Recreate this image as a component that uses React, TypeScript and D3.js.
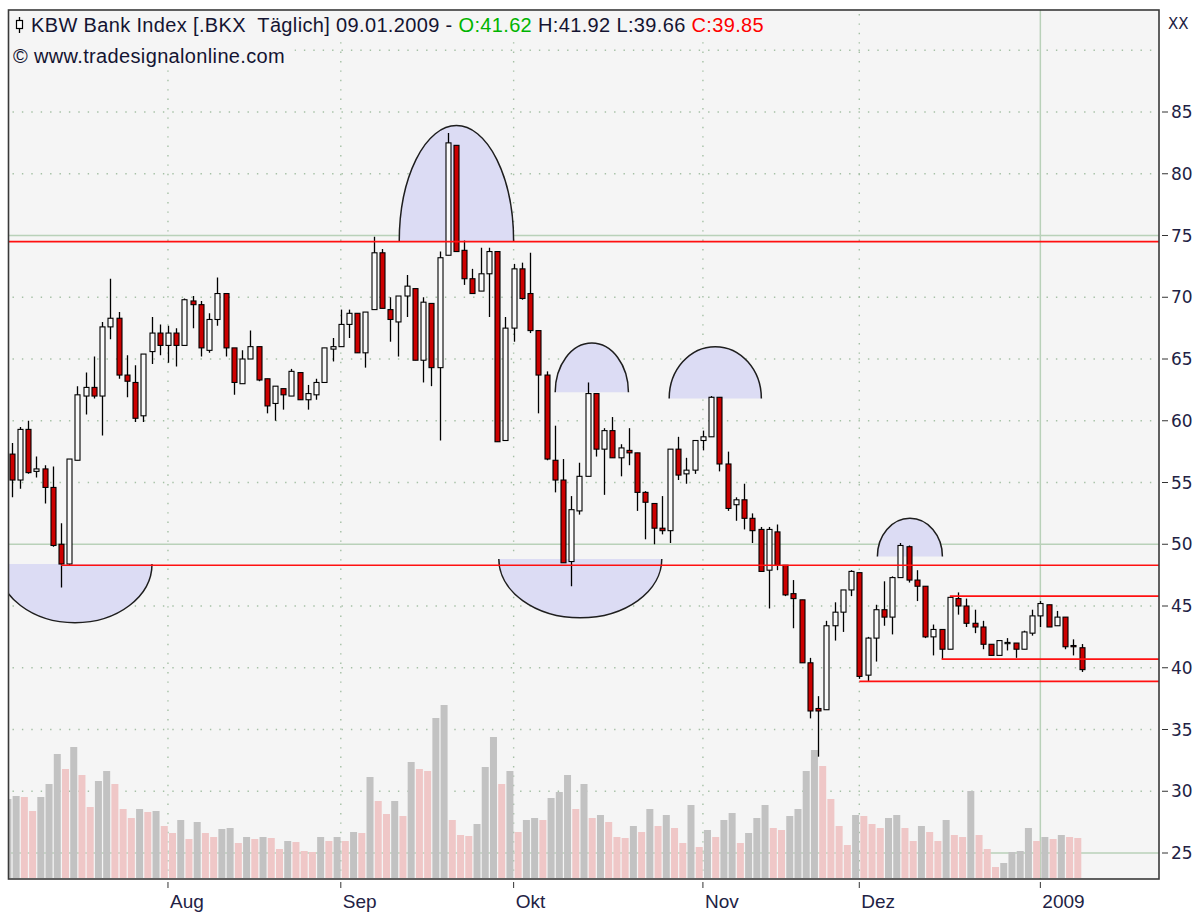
import React from "react";
import * as d3 from "d3";

// ---- Data (KBW Bank Index .BKX, daily, 07.07.2008 – 09.01.2009) ----
const opens = [
  57.3, 55.2, 59.3, 55.9, 56.1, 54.6, 50.0, 48.4, 56.8, 62.0,
  62.7, 62.0, 67.6, 68.3, 63.7, 63.1, 60.4, 65.6, 67.1, 66.1,
  67.1, 66.1, 69.7, 69.4, 65.7, 68.2, 70.3, 65.9, 63.0, 65.0,
  66.0, 63.4, 61.4, 62.6, 62.0, 63.9, 61.7, 62.1, 63.1, 65.8,
  66.0, 67.8, 68.7, 65.5, 69.0, 73.6, 69.0, 68.0, 70.1, 70.7,
  64.9, 69.5, 64.3, 73.4, 82.3, 73.8, 71.5, 70.5, 71.9, 73.7,
  58.4, 67.5, 72.3, 70.3, 67.3, 63.7, 56.8, 55.2, 48.6, 52.7,
  55.5, 62.2, 57.7, 59.2, 57.0, 57.6, 57.4, 54.2, 53.3, 51.3,
  51.1, 57.7, 55.7, 56.0, 58.4, 58.7, 61.9, 56.5, 53.2, 53.6,
  52.1, 51.2, 47.9, 51.0, 48.3, 46.0, 45.5, 40.4, 36.7, 36.6,
  43.4, 44.5, 46.3, 47.7, 39.4, 42.4, 44.7, 44.1, 47.3, 49.8,
  47.1, 46.6, 42.5, 43.1, 41.5, 45.6, 45.0, 43.6, 43.3, 41.9,
  41.0, 41.95, 42.0, 41.5, 42.8, 44.2, 45.1, 43.4, 44.1, 41.8,
  41.62,
];
const highs = [
  58.2, 59.5, 60.0, 57.1, 56.4, 56.3, 51.7, 56.9, 62.8, 63.9,
  65.2, 68.0, 71.5, 68.8, 65.3, 64.5, 65.4, 68.4, 67.8, 67.7,
  67.5, 69.9, 70.1, 69.7, 68.7, 71.6, 70.3, 65.9, 65.7, 67.3,
  66.0, 63.4, 62.8, 62.6, 64.2, 63.9, 62.9, 63.4, 65.9, 66.7,
  69.0, 69.0, 68.7, 68.8, 74.9, 73.9, 70.0, 70.1, 71.8, 70.7,
  70.0, 69.5, 73.7, 83.3, 82.3, 74.6, 72.3, 74.0, 74.0, 73.7,
  68.4, 72.7, 72.8, 73.6, 67.3, 64.0, 59.6, 56.9, 53.9, 56.6,
  63.1, 62.2, 59.4, 60.3, 58.1, 59.4, 57.4, 54.3, 53.3, 53.9,
  57.7, 58.7, 57.0, 58.4, 59.2, 62.0, 61.9, 57.5, 53.8, 54.9,
  52.5, 51.4, 51.4, 51.6, 48.3, 47.1, 45.5, 40.8, 37.7, 43.8,
  45.3, 46.3, 47.9, 47.7, 42.5, 45.1, 47.0, 47.4, 50.1, 49.9,
  47.9, 46.6, 43.5, 43.1, 45.7, 46.1, 45.6, 44.7, 43.8, 41.9,
  42.2, 42.4, 42.0, 43.0, 44.7, 45.4, 45.1, 44.6, 44.1, 42.3,
  41.92,
];
const lows = [
  53.8, 54.5, 55.7, 55.4, 53.3, 49.8, 46.5, 48.3, 56.8, 60.5,
  61.8, 58.8, 66.6, 63.4, 61.9, 59.9, 59.9, 64.6, 65.3, 64.7,
  64.4, 66.1, 67.5, 65.2, 65.5, 67.7, 65.2, 62.1, 63.0, 65.0,
  63.2, 60.6, 60.0, 60.9, 62.0, 61.7, 60.9, 61.7, 63.1, 64.8,
  66.0, 66.7, 65.5, 64.3, 69.0, 69.1, 66.4, 65.2, 68.4, 64.9,
  63.1, 62.8, 58.4, 73.4, 73.7, 71.0, 70.3, 70.5, 68.4, 58.3,
  58.4, 66.4, 69.8, 67.1, 60.6, 56.8, 54.2, 48.5, 46.6, 52.4,
  55.5, 57.1, 54.0, 57.0, 55.5, 56.4, 52.7, 50.4, 50.0, 50.8,
  50.1, 55.2, 54.9, 55.7, 57.6, 58.7, 55.9, 52.7, 51.9, 51.2,
  50.1, 47.8, 44.8, 47.9, 45.8, 43.2, 40.4, 35.9, 32.8, 36.6,
  42.2, 42.9, 45.8, 39.1, 38.9, 40.5, 43.4, 42.7, 47.3, 46.9,
  45.4, 42.4, 41.0, 40.7, 41.5, 44.3, 43.3, 42.8, 41.5, 41.0,
  41.0, 41.4, 40.8, 41.5, 42.6, 43.3, 43.3, 43.4, 41.5, 41.0,
  39.66,
];
const closes = [
  55.2, 59.3, 55.8, 56.1, 54.6, 49.9, 48.4, 56.9, 62.1, 62.7,
  62.0, 67.6, 68.3, 63.7, 63.2, 60.2, 65.4, 67.1, 66.1, 67.1,
  66.1, 69.8, 69.4, 65.9, 68.2, 70.3, 65.9, 63.1, 65.0, 66.0,
  63.3, 61.2, 62.8, 62.1, 64.0, 61.7, 62.2, 63.1, 65.9, 66.0,
  67.8, 68.7, 65.5, 68.8, 73.6, 69.1, 68.2, 70.1, 70.9, 64.9,
  69.6, 64.3, 73.2, 82.5, 73.7, 71.5, 70.3, 71.9, 73.7, 58.3,
  67.5, 72.3, 69.9, 67.3, 63.7, 56.9, 55.2, 48.5, 52.8, 55.5,
  62.2, 57.7, 59.2, 57.0, 57.8, 57.4, 54.2, 53.4, 51.3, 51.1,
  57.7, 55.6, 56.0, 58.4, 58.7, 61.9, 56.5, 52.9, 53.6, 52.1,
  51.1, 47.8, 51.2, 48.3, 45.9, 45.6, 40.4, 36.5, 36.5, 43.4,
  44.5, 46.3, 47.8, 39.3, 42.4, 44.7, 44.1, 47.3, 49.9, 47.1,
  46.6, 42.5, 43.1, 41.5, 45.7, 45.0, 43.6, 43.3, 41.9, 41.0,
  42.2, 42.05, 41.5, 42.9, 44.2, 45.2, 43.3, 44.1, 41.7, 41.7,
  39.85,
];
const volumes = [
  79, 82, 81, 67, 81, 94, 124, 109, 131, 103,
  71, 97, 107, 94, 69, 60, 69, 66, 67, 52,
  45, 58, 39, 56, 45, 41, 49, 50, 35, 41,
  39, 41, 40, 29, 37, 36, 27, 26, 41, 37,
  41, 37, 46, 45, 101, 77, 64, 77, 62, 116,
  109, 107, 160, 173, 58, 43, 42, 54, 111, 141,
  94, 107, 46, 58, 60, 58, 80, 86, 103, 69,
  94, 60, 63, 56, 41, 40, 52, 46, 69, 52,
  63, 50, 35, 73, 31, 48, 41, 58, 65, 35,
  45, 60, 73, 50, 48, 62, 69, 107, 128, 112,
  79, 52, 33, 63, 62, 54, 50, 60, 63, 50,
  37, 52, 46, 37, 58, 43, 41, 87, 43, 29,
  11, 15, 26, 27, 50, 37, 41, 39, 43, 41,
  40,
];

const monthTickIndex = [19, 40, 61, 84, 103, 125];
const monthTickLabels = ["Aug", "Sep", "Okt", "Nov", "Dez", "2009"];
const yearTickIndex = 125;
const priceTicks = [25, 30, 35, 40, 45, 50, 55, 60, 65, 70, 75, 80, 85];
const gridValues = [25, 30, 35, 40, 45, 50, 55, 60, 65, 70, 75, 80, 85, 90];
const solidGridValues = [25, 50, 75];

// horizontal support / resistance lines (value, starting bar index)
const levelValues = [74.5, 48.3, 45.8, 40.7, 38.9];
const levelStart = [-2, 6, 114, 113, 103];

// half-ellipse markers: centre bar, half-width in bars, base value, extreme value
const arcCenter = [7.7, 54.05, 69.1, 70.5, 85.5, 109.15];
const arcHalfWidth = [9.36, 6.95, 9.9, 4.45, 5.6, 3.95];
const arcBase = [48.4, 74.5, 48.8, 62.3, 61.8, 49.0];
const arcExtreme = [43.65, 83.9, 44.05, 66.3, 66.0, 52.1];

const W = 1204;
const H = 912;
const L = 8.5;
const R = 1159;
const T = 10;
const B = 879;

export default function App() {
  const n = opens.length;
  const xs = d3.scaleLinear().domain([0, n - 1]).range([11.6, 1081.5]);
  const ys = d3.scaleLinear().domain([25, 85]).range([853, 112]);
  const yv = d3.scaleLinear().domain([0, 200]).range([878, 678]);

  const dotted = { stroke: "#a5c0a5", strokeWidth: 1.4, strokeDasharray: "1.4 8" };
  const solidGreen = "#b9d1b9";

  const arcs = arcCenter.map((c, k) => {
    const cx = xs(c);
    const rx = xs(c + arcHalfWidth[k]) - cx;
    const cy = ys(arcBase[k]);
    const ey = ys(arcExtreme[k]);
    const ry = Math.abs(ey - cy);
    const sweep = ey < cy ? 1 : 0;
    const arc = `M${cx - rx},${cy} A${rx},${ry} 0 0 ${sweep} ${cx + rx},${cy}`;
    return { fill: arc + " Z", stroke: arc };
  });

  return (
    <svg
      width={W}
      height={H}
      style={{ position: "absolute", left: 0, top: 0, background: "#ffffff" }}
      fontFamily="'Liberation Sans', Arial, sans-serif"
    >
      <defs>
        <clipPath id="plotClip">
          <rect x={L} y={T} width={R - L} height={B - T} />
        </clipPath>
      </defs>
      <rect x={0} y={0} width={W} height={H} fill="#ffffff" />
      <rect x={L} y={T} width={R - L} height={B - T} fill="#f5f5f5" />

      <g clipPath="url(#plotClip)">
        {/* grid */}
        {gridValues.map((v) =>
          solidGridValues.includes(v) ? (
            <line key={"g" + v} x1={L} x2={R} y1={ys(v)} y2={ys(v)} stroke={solidGreen} strokeWidth={1.5} />
          ) : (
            <line key={"g" + v} x1={L + 4} x2={R} y1={ys(v)} y2={ys(v)} {...dotted} />
          )
        )}
        {monthTickIndex.map((m) =>
          m === yearTickIndex ? (
            <line key={"v" + m} x1={xs(m)} x2={xs(m)} y1={T} y2={B} stroke={solidGreen} strokeWidth={1.5} />
          ) : (
            <line key={"v" + m} x1={xs(m)} x2={xs(m)} y1={T + 4} y2={B} {...dotted} />
          )
        )}

        {/* volume */}
        {volumes.map((v, i) => {
          const up = i === 0 || v >= volumes[i - 1];
          return (
            <rect
              key={"vol" + i}
              x={xs(i) - 7.2}
              y={yv(v)}
              width={7}
              height={yv(0) - yv(v)}
              fill={up ? "#c2c2c2" : "#efc7c7"}
            />
          );
        })}

        {/* half-ellipse markers */}
        {arcs.map((a, k) => (
          <path key={"af" + k} d={a.fill} fill="#dcdcf4" />
        ))}
        {arcs.map((a, k) => (
          <path key={"as" + k} d={a.stroke} fill="none" stroke="#1e1e1e" strokeWidth={1.5} />
        ))}

        {/* candles */}
        {opens.map((o, i) => {
          const x = Math.round(xs(i)) + 0.5;
          const c = closes[i];
          const up = c >= o;
          const top = ys(Math.max(o, c));
          const bot = ys(Math.min(o, c));
          return (
            <g key={"c" + i}>
              <line x1={x} x2={x} y1={ys(highs[i])} y2={ys(lows[i])} stroke="#000" strokeWidth={1.3} />
              <rect
                x={x - 2.5}
                y={top}
                width={5}
                height={Math.max(bot - top, 1.2)}
                fill={up ? "#fafafa" : "#cc0000"}
                stroke="#000"
                strokeWidth={1.1}
              />
            </g>
          );
        })}

        {/* red levels */}
        {levelValues.map((v, k) => (
          <line
            key={"lv" + k}
            x1={xs(levelStart[k])}
            x2={R}
            y1={ys(v)}
            y2={ys(v)}
            stroke="#ff1010"
            strokeWidth={1.7}
          />
        ))}

        {/* header boxes */}
        <rect x={L + 1} y={T + 1} width={765} height={30} fill="#f5f5f5" />
        <rect x={L + 1} y={T + 31} width={285} height={24} fill="#f5f5f5" />
      </g>

      {/* frame */}
      <rect x={L} y={T} width={R - L} height={B - T} fill="none" stroke="#3a3a3a" strokeWidth={1.6} />

      {/* header */}
      <line x1={19.5} x2={19.5} y1={17} y2={33} stroke="#000" strokeWidth={1.3} />
      <rect x={16.5} y={20.5} width={6} height={8} fill="#fff" stroke="#000" strokeWidth={1.2} />
      <text x={31} y={32} fontSize={20} letterSpacing={0.35} fill="#141432">
        <tspan>{"KBW Bank Index [.BKX\u00a0 Täglich] 09.01.2009 - "}</tspan>
        <tspan fill="#00b400">O:41.62</tspan>
        <tspan> H:41.92 L:39.66 </tspan>
        <tspan fill="#ff0000">C:39.85</tspan>
      </text>
      <text x={13} y={63} fontSize={20} letterSpacing={0.35} fill="#141432">
        © www.tradesignalonline.com
      </text>

      {/* right axis */}
      <text x={1168} y={29} fontSize={15} fill="#222244" fontFamily="'DejaVu Sans', Verdana, sans-serif">
        XX
      </text>
      {priceTicks.map((v) => (
        <g key={"pt" + v}>
          <line x1={R + 3} x2={R + 9} y1={ys(v)} y2={ys(v)} stroke="#333" strokeWidth={1} />
          <text
            x={R + 12}
            y={ys(v)}
            dy="0.36em"
            fontSize={17}
            fill="#222244"
            fontFamily="'DejaVu Sans', Verdana, sans-serif"
          >
            {v}
          </text>
        </g>
      ))}

      {/* bottom axis */}
      {monthTickIndex.map((m, k) => (
        <g key={"mt" + k}>
          <line x1={xs(m)} x2={xs(m)} y1={B + 3} y2={B + 9} stroke="#333" strokeWidth={1} />
          <text x={xs(m) + 2} y={B + 29} fontSize={19} fill="#222244">
            {monthTickLabels[k]}
          </text>
        </g>
      ))}
    </svg>
  );
}
